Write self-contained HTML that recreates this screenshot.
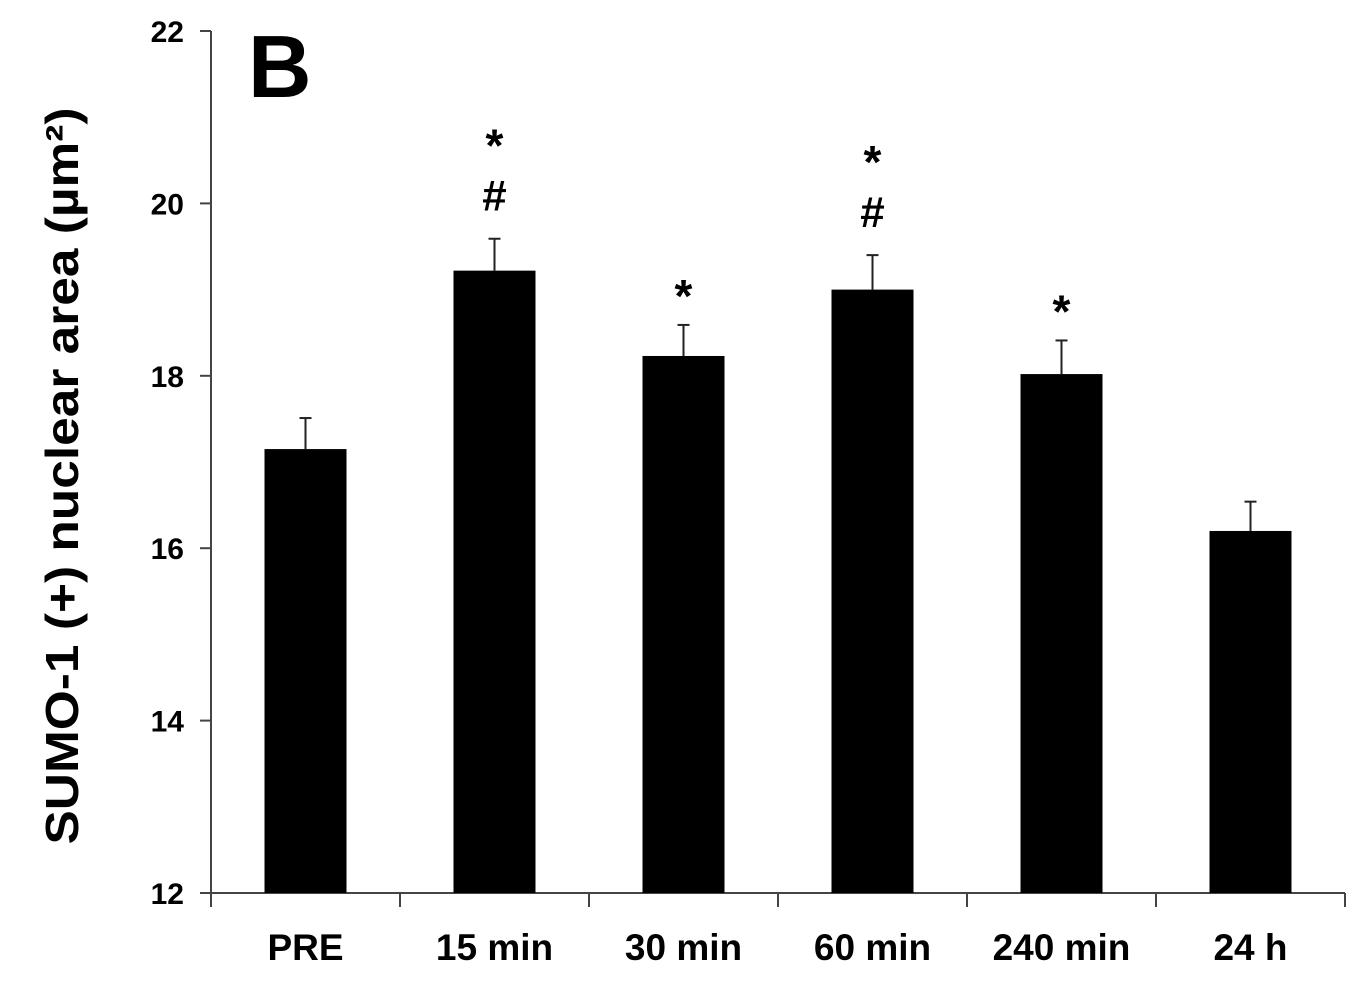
<!DOCTYPE html>
<html><head><meta charset="utf-8"><style>
body{margin:0;background:#fff;width:1371px;height:986px;overflow:hidden}
svg{display:block}
text{font-family:"Liberation Sans",Arial,sans-serif;font-weight:bold;fill:#000}
</style></head><body>
<svg id="chart" width="1371" height="986">
<text x="248" y="97" font-size="88">B</text>
<text transform="translate(78,476) rotate(-90)" font-size="46" textLength="737" lengthAdjust="spacingAndGlyphs" text-anchor="middle">SUMO-1 (+) nuclear area (µm²)</text>
<g id="axes"></g><g id="bars"></g>
</svg>
<script>
const categories=["PRE","15 min","30 min","60 min","240 min","24 h"];
const values=[17.15,19.22,18.23,19.0,18.02,16.2];
const errors=[0.36,0.37,0.36,0.4,0.39,0.34];
const marks=[[],["*","#"],["*"],["*","#"],["*"],[]];
const yTicks=[12,14,16,18,20,22];
const NS="http://www.w3.org/2000/svg";
const x0=211,catW=189,yMin=12,yMax=22,py0=893,py1=31;
const y=v=>py0-(v-yMin)/(yMax-yMin)*(py0-py1);
const xc=i=>x0+catW*(i+0.5);
function mk(tag,attrs,parent,txt){const e=document.createElementNS(NS,tag);for(const k in attrs)e.setAttribute(k,attrs[k]);if(txt!=null)e.textContent=txt;parent.appendChild(e);return e;}
const ax=document.getElementById('axes'),bg=document.getElementById('bars');
let e=mk('line',{x1:x0,y1:py1,x2:x0,y2:py0,stroke:'#444','stroke-width':2},ax);


e=mk('line',{x1:200,y1:py0,x2:x0+catW*categories.length,y2:py0,stroke:'#444','stroke-width':2},ax);


yTicks.forEach(t=>{
 mk('line',{x1:200,y1:y(t),x2:x0,y2:y(t),stroke:'#444','stroke-width':2},ax);
 const tx=mk('text',{x:184,y:y(t)+11,'font-size':30,'text-anchor':'end'},ax,t);
 
 
});
for(let i=0;i<=categories.length;i++){mk('line',{x1:x0+catW*i,y1:py0,x2:x0+catW*i,y2:907,stroke:'#444','stroke-width':2},ax);}
categories.forEach((c,i)=>{
 const cx=xc(i);
 const b=mk('rect',{x:cx-41,y:y(values[i]),width:82,height:py0-y(values[i]),fill:'#000'},bg);
 
 
 const et=y(values[i]+errors[i]);
 mk('line',{x1:cx,y1:et,x2:cx,y2:y(values[i]),stroke:'#222','stroke-width':2},bg);
 mk('line',{x1:cx-6,y1:et,x2:cx+6,y2:et,stroke:'#222','stroke-width':2},bg);
 const l=mk('text',{x:cx,y:960,'font-size':37,'text-anchor':'middle'},bg,c);
 
 
 const m=marks[i];
 m.forEach((s,k)=>{
  let yy;
  if(m.length===1) yy=et-13;
  else yy=(s==="#")?et-28:et-77;
  const st=mk('text',{x:cx,y:yy,'font-size':s=="*"?46:44,'text-anchor':'middle'},bg,s);
  
  
 });
});
</script>
</body></html>
